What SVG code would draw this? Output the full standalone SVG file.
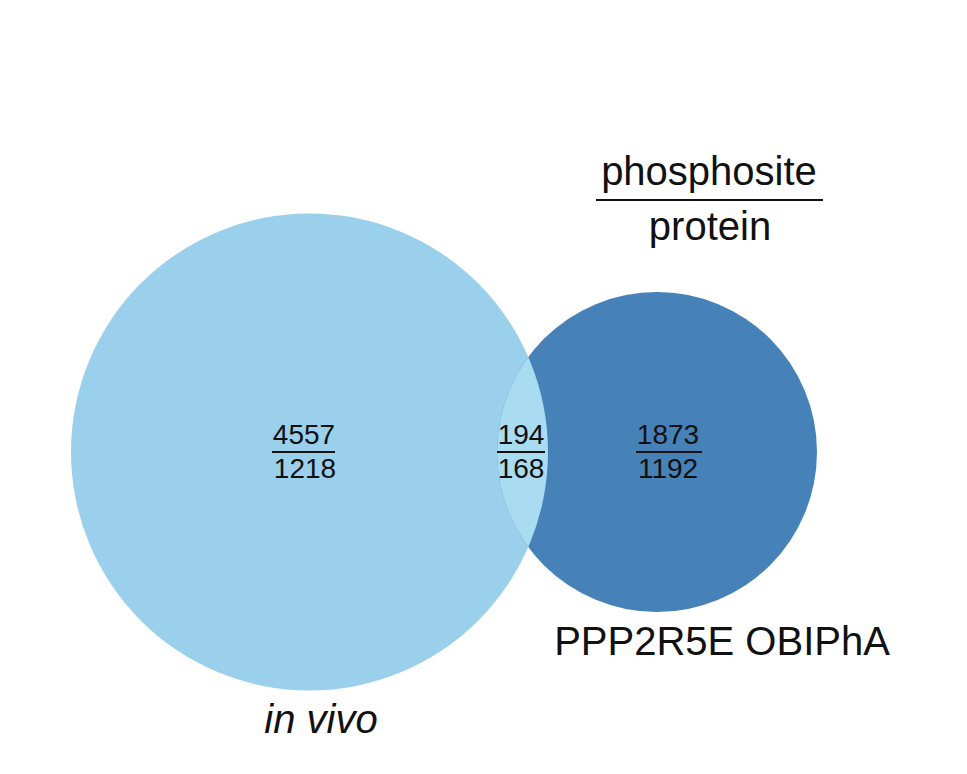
<svg xmlns="http://www.w3.org/2000/svg" width="967" height="774" viewBox="0 0 967 774">
<style>
text{font-family:"Liberation Sans",Arial,sans-serif;fill:#111}
.n{font-size:28px;text-anchor:middle}
.l{font-size:40px;text-anchor:middle}
.bar{stroke:#111;stroke-width:2}
</style>
<defs>
<clipPath id="cb"><circle cx="309.5" cy="452" r="238.5"/></clipPath>
</defs>
<rect width="967" height="774" fill="#fff"/>
<g id="invivo">
<circle cx="309.5" cy="452" r="238.5" fill="#9AD0EC"/>
<text class="n" x="304" y="444">4557</text>
<line class="bar" x1="272" y1="452" x2="335" y2="452"/>
<text class="n" x="305" y="478">1218</text>
<text class="l" x="321" y="733" font-style="italic">in vivo</text>
</g>
<g id="obipha">
<circle cx="657" cy="452" r="160" fill="#4682B8"/>
<text class="n" x="668" y="444">1873</text>
<line class="bar" x1="636" y1="452" x2="702" y2="452"/>
<text class="n" x="668" y="478">1192</text>
<text class="l" x="722" y="655">PPP2R5E OBIPhA</text>
</g>
<g id="overlap">
<circle cx="657" cy="452" r="160" fill="#A9DCF1" clip-path="url(#cb)"/>
<text class="n" x="521" y="444">194</text>
<line class="bar" x1="497" y1="452" x2="545" y2="452"/>
<text class="n" x="521" y="478">168</text>
</g>
<g id="legend">
<text class="l" x="709" y="185">phosphosite</text>
<line class="bar" x1="596" y1="200" x2="823" y2="200"/>
<text class="l" x="710" y="240">protein</text>
</g>
</svg>
